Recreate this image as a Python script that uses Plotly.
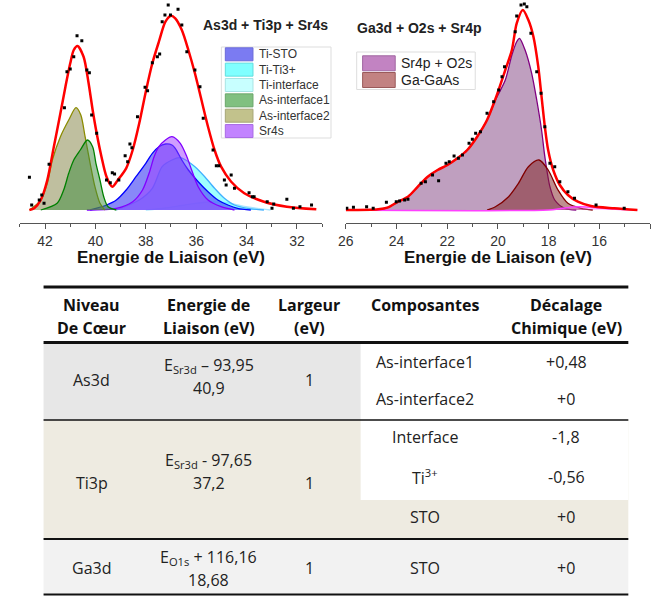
import plotly.graph_objects as go

W, H = 655, 596

# ---------------- Left spectrum : As3d + Ti3p + Sr4s ----------------
left_dots_ev = [42.62, 42.53, 42.23, 42.13, 42.04, 41.84, 41.23, 41.13, 41.00, 40.86, 40.73, 40.54,
                40.34, 40.24, 40.15, 39.95, 39.56, 39.41, 39.33, 39.24, 39.07, 38.82, 38.72, 38.63,
                38.55, 38.33, 38.03, 37.93, 37.74, 37.54, 37.45, 37.35, 37.24, 37.11, 37.02, 36.72,
                36.57, 36.37, 36.05, 35.85, 35.72, 35.33, 35.20, 35.10, 34.88, 34.81, 34.61, 34.48,
                33.90, 33.77, 33.70, 33.18, 32.99, 32.92, 32.40, 32.14, 31.88, 31.42]
left_dots_int = [32.7, 5.0, 10.0, 15.0, 6.7, 45.7, 102.3, 138.3, 141.0, 153.3, 174.3, 169.3,
                 140.0, 137.3, 95.0, 76.7, 30.0, 27.3, 37.3, 36.0, 30.0, 54.3, 48.3, 66.0,
                 62.3, 93.3, 122.7, 119.3, 147.3, 153.3, 156.0, 188.3, 195.0, 205.0, 195.0, 200.7,
                 185.0, 158.3, 140.0, 123.3, 91.7, 60.0, 44.3, 44.3, 30.0, 25.0, 35.0, 21.7,
                 17.3, 13.3, 13.3, 8.3, 1.7, 6.0, 10.7, 1.7, 3.3, 5.0]

left_fit_ev = [42.62, 42.43, 42.17, 41.91, 41.65, 41.39, 41.19, 41.00, 40.86, 40.71, 40.47, 40.28,
               40.11, 39.95, 39.76, 39.56, 39.33, 39.11, 38.78, 38.52, 38.26, 38.00, 37.74, 37.48,
               37.22, 37.00, 36.83, 36.57, 36.31, 36.05, 35.79, 35.53, 35.27, 35.01, 34.61, 34.09,
               33.31, 32.40, 31.23]
left_fit_int = [0.0, 1.7, 10.0, 30.0, 63.3, 96.7, 123.3, 146.7, 160.0, 164.0, 153.3, 128.3,
                100.0, 76.7, 53.3, 33.3, 23.3, 30.0, 41.7, 60.0, 86.7, 118.3, 146.7, 168.3,
                188.3, 194.3, 191.7, 180.0, 160.0, 136.7, 110.0, 83.3, 60.0, 43.3, 28.3, 16.7,
                8.3, 3.3, 0.7]

as2_ev = [42.62, 42.17, 41.91, 41.71, 41.39, 41.06, 40.77, 40.58, 40.41, 40.21, 40.02, 39.82, 39.63]
as2_int = [0.0, 10.0, 26.7, 50.0, 73.3, 90.0, 102.3, 95.0, 73.3, 46.7, 23.3, 6.7, 0.0]

as1_ev = [42.17, 41.52, 41.26, 41.06, 40.86, 40.60, 40.32, 40.11, 39.98, 39.82, 39.67, 39.50, 39.17]
as1_int = [0.0, 6.7, 20.0, 36.7, 50.0, 60.0, 70.0, 63.3, 46.7, 30.0, 13.3, 3.3, 0.0]

tisto_ev = [40.21, 39.56, 39.17, 38.78, 38.39, 38.00, 37.74, 37.48, 37.22, 36.96, 36.83, 36.57,
            36.31, 35.92, 35.53, 35.14, 34.74, 34.35, 33.83]
tisto_int = [0.0, 5.0, 10.0, 20.0, 33.3, 46.7, 56.7, 63.3, 66.0, 65.0, 61.7, 50.0,
             40.0, 28.3, 18.3, 10.0, 5.0, 1.7, 0.0]

sr4s_ev = [40.34, 39.17, 38.52, 38.13, 37.87, 37.67, 37.48, 37.22, 36.96, 36.63, 36.37, 36.18,
           35.92, 35.53, 35.01, 34.48]
sr4s_int = [0.0, 1.7, 8.3, 20.0, 36.7, 53.3, 63.3, 70.0, 73.3, 66.7, 53.3, 40.0,
            23.3, 10.0, 3.3, 0.0]

ti3_ev = [39.17, 38.26, 37.74, 37.35, 36.96, 36.63, 36.31, 36.05, 35.66, 35.27, 34.88, 34.48, 33.96, 33.31]
ti3_int = [0.0, 10.0, 21.7, 43.3, 50.0, 52.3, 48.3, 43.3, 33.3, 21.7, 11.7, 5.0, 1.7, 0.0]

tiint_ev = [38.00, 37.22, 36.44, 35.53, 34.74, 33.96, 33.05]
tiint_int = [0.0, 2.0, 5.0, 8.0, 7.0, 3.0, 0.0]

# ---------------- Right spectrum : Ga3d + O2s + Sr4p ----------------
right_dots_ev = [25.96, 25.70, 25.18, 24.92, 24.40, 24.01, 23.88, 23.68, 23.55, 23.03, 22.86, 22.58,
                 22.34, 22.05, 21.92, 21.73, 21.56, 21.40, 21.14, 21.01, 20.88, 20.69, 20.43, 20.17,
                 19.97, 19.84, 19.74, 19.32, 19.26, 19.09, 18.96, 18.86, 18.70, 18.47, 18.30, 18.15,
                 17.95, 17.76, 17.56, 17.24, 16.98, 16.13, 15.02]
right_dots_int = [1.7, 2.7, 3.3, 1.7, 7.7, 8.3, 9.0, 10.0, 10.7, 26.7, 28.3, 35.0,
                  29.3, 46.7, 48.3, 54.0, 51.7, 55.0, 66.7, 70.7, 76.7, 78.3, 96.7, 108.3,
                  120.0, 133.3, 143.3, 178.3, 194.0, 205.0, 206.0, 203.3, 176.7, 138.3, 116.7, 83.3,
                  46.7, 43.3, 28.3, 18.3, 11.7, 5.0, 1.7]

right_fit_ev = [26.00, 24.72, 24.33, 23.94, 23.55, 23.16, 22.77, 22.38, 21.99, 21.60, 21.21, 20.82,
                20.43, 20.10, 19.71, 19.45, 19.26, 19.02, 18.80, 18.60, 18.41, 18.28, 18.15, 18.02,
                17.82, 17.56, 17.24, 16.85, 16.33, 15.41, 14.50]
right_fit_int = [0.0, 0.7, 2.7, 8.3, 13.3, 23.3, 33.3, 40.0, 45.0, 51.7, 60.0, 73.3,
                 90.0, 111.0, 140.0, 160.0, 186.7, 200.0, 190.0, 173.3, 143.3, 113.3, 83.3, 60.0,
                 40.0, 25.0, 15.0, 8.3, 4.0, 1.7, 0.0]

sr4p_ev = [26.00, 24.72, 24.33, 23.94, 23.55, 23.16, 22.77, 22.38, 21.99, 21.60, 21.21, 20.82,
           20.43, 20.10, 19.71, 19.45, 19.26, 19.15, 18.93, 18.67, 18.47, 18.28, 18.15, 17.95,
           17.76, 17.37, 16.91]
sr4p_int = [0.0, 0.7, 2.7, 8.3, 13.3, 23.3, 33.3, 40.0, 45.0, 51.7, 60.0, 73.3,
            90.0, 110.0, 130.0, 155.0, 168.3, 171.7, 160.0, 136.7, 110.0, 80.0, 53.3, 23.3,
            10.0, 1.7, 0.0]

gagaas_ev = [20.43, 20.10, 19.58, 19.19, 18.80, 18.38, 18.02, 17.63, 17.24, 16.72, 16.26]
gagaas_int = [0.0, 3.3, 13.3, 26.7, 43.3, 50.0, 40.0, 20.0, 6.7, 1.7, 0.0]

bgpeak_ev = [26.0, 18.0, 17.5, 17.0, 16.5, 16.0, 15.5, 14.5]
bgpeak_int = [0.0, 0.0, 1.5, 3.0, 3.0, 2.0, 1.0, 0.0]

left_title = "As3d + Ti3p + Sr4s"
right_title = "Ga3d + O2s + Sr4p"
axis_title = "Energie de Liaison (eV)"

left_legend = ["Ti-STO", "Ti-Ti3+", "Ti-interface", "As-interface1", "As-interface2", "Sr4s"]
left_legend_fill = ["#7b7bf2", "#80ffff", "#c8ffff", "#80c080", "#c2c28c", "#c283ff"]
left_legend_edge = ["#6a6ad8", "#60dede", "#a8e4e4", "#6aa66a", "#a6a676", "#a86ae4"]
right_legend = ["Sr4p + O2s", "Ga-GaAs"]
right_legend_fill = ["#c283c2", "#c28282"]
right_legend_edge = ["#a066a0", "#9a5a5a"]

# ---------------- Table ----------------
header = [("Niveau", "De Cœur"), ("Energie de", "Liaison (eV)"), ("Largeur", "(eV)"),
          ("Composantes", ""), ("Décalage", "Chimique (eV)")]
levels = ["As3d", "Ti3p", "Ga3d"]
energy_formula = ["E<sub>Sr3d</sub> – 93,95", "E<sub>Sr3d</sub> - 97,65", "E<sub>O1s</sub> + 116,16"]
energy_value = ["40,9", "37,2", "18,68"]
widths = ["1", "1", "1"]
components = [["As-interface1", "As-interface2"], ["Interface", "Ti<sup>3+</sup>", "STO"], ["STO"]]
shifts = [["+0,48", "+0"], ["-1,8", "-0,56", "+0"], ["+0"]]

# ====================================================================
fig = go.Figure()

def fill_trace(x, y, fillc, linec, xa, ya, lw=1.3):
    fig.add_trace(go.Scatter(x=x, y=y, mode="lines", fill="tozeroy", fillcolor=fillc,
                             line=dict(color=linec, width=lw, shape="spline", smoothing=0.8),
                             xaxis=xa, yaxis=ya, hoverinfo="skip"))

# left components
fill_trace(tiint_ev, tiint_int, "rgba(190,255,255,0.55)", "#a8e6ff", "x", "y")
fill_trace(ti3_ev, ti3_int, "rgba(64,255,255,0.5)", "#40b0ff", "x", "y")
fill_trace(tisto_ev, tisto_int, "rgba(80,80,245,0.68)", "#0000ff", "x", "y")
fill_trace(sr4s_ev, sr4s_int, "rgba(160,60,255,0.5)", "#8000ff", "x", "y")
fill_trace(as2_ev, as2_int, "rgba(128,128,64,0.5)", "#8b8b00", "x", "y")
fill_trace(as1_ev, as1_int, "rgba(60,140,60,0.5)", "#008000", "x", "y")
fig.add_trace(go.Scatter(x=left_fit_ev, y=left_fit_int, mode="lines",
                         line=dict(color="#ff0000", width=2.5, shape="spline", smoothing=0.8),
                         xaxis="x", yaxis="y"))
fig.add_trace(go.Scatter(x=left_dots_ev, y=left_dots_int, mode="markers",
                         marker=dict(symbol="square", size=3, color="black"), xaxis="x", yaxis="y"))

# right components
fill_trace(sr4p_ev, sr4p_int, "rgba(128,64,128,0.5)", "#800080", "x2", "y2")
fill_trace(gagaas_ev, gagaas_int, "rgba(128,32,32,0.5)", "#800000", "x2", "y2")
fill_trace(bgpeak_ev, bgpeak_int, "rgba(255,100,255,0.3)", "#ff40ff", "x2", "y2", lw=1.5)
fig.add_trace(go.Scatter(x=right_fit_ev, y=right_fit_int, mode="lines",
                         line=dict(color="#ff0000", width=2.5, shape="spline", smoothing=0.8),
                         xaxis="x2", yaxis="y2"))
fig.add_trace(go.Scatter(x=right_dots_ev, y=right_dots_int, mode="markers",
                         marker=dict(symbol="square", size=3, color="black"), xaxis="x2", yaxis="y2"))

def px(x):
    return x / W

def py(y):
    return 1 - y / H

axcommon = dict(ticks="outside", ticklen=5, tickwidth=1, tickcolor="#555", showline=True,
                linecolor="#555", linewidth=1, showgrid=False, zeroline=False, tickmode="linear",
                dtick=2, minor=dict(dtick=1, ticks="outside", ticklen=3, tickcolor="#555", showgrid=False),
                tickfont=dict(family="Liberation Sans, Arial", size=14, color="#333"), fixedrange=True)

fig.update_layout(
    width=W, height=H, margin=dict(l=0, r=0, t=0, b=0),
    paper_bgcolor="white", plot_bgcolor="rgba(0,0,0,0)", showlegend=False,
    xaxis=dict(domain=[px(12), px(318)], range=[43, 31], tick0=32, anchor="y", **axcommon),
    yaxis=dict(domain=[py(222.7), 1], range=[-12.7, 210], visible=False, fixedrange=True),
    xaxis2=dict(domain=[px(342), px(650)], range=[26, 14], tick0=14, anchor="y2", **axcommon),
    yaxis2=dict(domain=[py(222.7), 1], range=[-12.7, 210], visible=False, fixedrange=True),
)

shapes = []
annotations = []

def txt(x, y, s, size=14, bold=False, family="Liberation Sans, Arial", color="#222", anchor="center"):
    if bold:
        s = "<b>" + s + "</b>"
    annotations.append(dict(x=px(x), y=py(y), xref="paper", yref="paper", text=s, showarrow=False,
                            xanchor=anchor, yanchor="middle",
                            font=dict(family=family, size=size, color=color)))

def rect(x0, y0, x1, y1, fill, line=None, lw=0):
    shapes.append(dict(type="rect", xref="paper", yref="paper", x0=px(x0), x1=px(x1),
                       y0=py(y1), y1=py(y0), fillcolor=fill,
                       line=dict(color=line if line else fill, width=lw), layer="below"))

def hline(y, x0, x1, w, color="#111"):
    shapes.append(dict(type="line", xref="paper", yref="paper", x0=px(x0), x1=px(x1),
                       y0=py(y), y1=py(y), line=dict(color=color, width=w)))

# chart titles
txt(261, 25, left_title, size=14, bold=True)
txt(417, 28, right_title, size=14, bold=True)
txt(165, 257, axis_title, size=17, bold=True, color="#111")
txt(496, 257, axis_title, size=17, bold=True, color="#111")

# left legend box
shapes.append(dict(type="rect", xref="paper", yref="paper", x0=px(216), x1=px(327), y0=py(138), y1=py(47),
                   fillcolor="white", line=dict(color="#dddddd", width=1)))
for i, name in enumerate(left_legend):
    yc = 54.3 + i * 15.35
    shapes.append(dict(type="rect", xref="paper", yref="paper", x0=px(220), x1=px(248),
                       y0=py(yc + 6.5), y1=py(yc - 6.5), fillcolor=left_legend_fill[i],
                       line=dict(color=left_legend_edge[i], width=1)))
    txt(252, yc, name, size=12, color="#333", anchor="left")

# right legend box
shapes.append(dict(type="rect", xref="paper", yref="paper", x0=px(353), x1=px(473), y0=py(89.5), y1=py(52),
                   fillcolor="white", line=dict(color="#dddddd", width=1)))
for i, name in enumerate(right_legend):
    yc = 63.3 + i * 16.7
    shapes.append(dict(type="rect", xref="paper", yref="paper", x0=px(359), x1=px(392),
                       y0=py(yc + 7.5), y1=py(yc - 7.5), fillcolor=right_legend_fill[i],
                       line=dict(color=right_legend_edge[i], width=1)))
    txt(396, yc, name, size=14, color="#222", anchor="left")

# table backgrounds
TL, TR, TC = 36, 628, 357
rect(TL, 343, TC, 420, "#e7e7e7")
rect(TL, 420, TR, 539, "#eeebe1")
rect(TC, 420, TR, 500, "#ffffff")
rect(TL, 539, TR, 594, "#f2f2f2")

hline(287, TL, TR, 3)
hline(342.5, TL, TR, 3)
hline(420, TL, TR, 1.5)
hline(539, TL, TR, 2)
hline(594.5, TL, TR, 2)

cols = [85, 203, 305, 422, 565]
TF = "Open Sans"
for c, (l1, l2) in zip(cols, header):
    txt(c, 305, l1, size=16, bold=True, family=TF, color="#111")
    if l2:
        txt(c, 328, l2, size=16, bold=True, family=TF, color="#111")

row_mid = [380, 483, 568]
formula_y = [365, 460, 557]
value_y = [388, 483, 580]
sub_y = [[362, 399], [437, 477, 517], [568]]
for i in range(3):
    txt(cols[0], row_mid[i], levels[i], size=16, family=TF)
    txt(cols[1], formula_y[i], energy_formula[i], size=16, family=TF)
    txt(cols[1], value_y[i], energy_value[i], size=16, family=TF)
    txt(cols[2], row_mid[i], widths[i], size=16, family=TF)
    for comp, sh, yy in zip(components[i], shifts[i], sub_y[i]):
        txt(cols[3], yy, comp, size=16, family=TF)
        txt(cols[4], yy, sh, size=16, family=TF)

fig.update_layout(shapes=shapes, annotations=annotations)
fig.write_html("out.html", config={"displayModeBar": False},
               post_script="document.body.style.margin='0';document.body.style.overflow='hidden';")
